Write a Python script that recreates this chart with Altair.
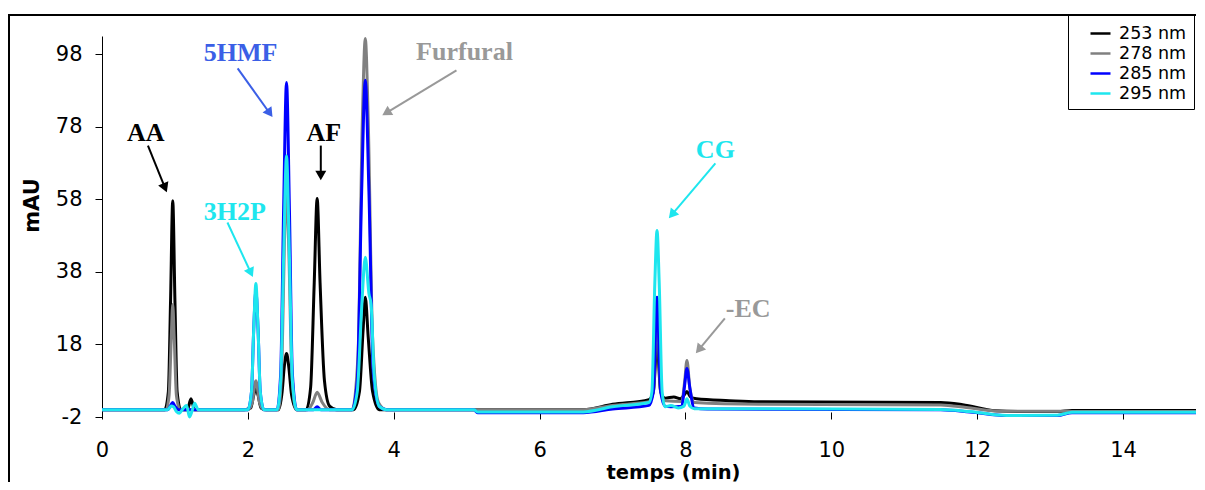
import math
import altair as alt
import pandas as pd

# ---------------- data ----------------
series_names = ["253 nm", "278 nm", "285 nm", "295 nm"]
series_colors = ["#000000", "#808080", "#0000ff", "#1ee6ee"]

t_253 = [0.0, 0.86, 0.91, 0.94, 0.97, 1.00, 1.03, 1.08, 1.17, 1.22, 1.27, 1.95, 2.04, 2.08, 2.11, 2.14, 2.18, 2.25,
         2.42, 2.47, 2.50, 2.53, 2.56, 2.60, 2.67, 2.80, 2.86, 2.91, 2.95, 2.99, 3.05, 3.12, 3.22, 3.45, 3.53, 3.58,
         3.61, 3.65, 3.71, 3.80, 6.60, 7.00, 7.50, 7.56, 7.61, 7.66, 7.72, 7.84, 7.93, 7.98, 8.02, 8.07, 8.15, 8.60,
         9.00, 11.50, 11.80, 12.25, 12.60, 13.10, 13.30, 15.0]
v_253 = [0, 0, 5, 30, 57.6, 30, 5, 0, 0, 3, 0, 0, 0.5, 4, 5.9, 4, 0.5, 0,
         0, 5, 12, 15.5, 12, 4, 0, 0, 6, 35, 58.2, 35, 8, 1, 0, 0, 5, 22,
         31, 20, 5, 0, 0, 1.5, 2.8, 5, 18, 5, 3.2, 3.5, 3, 4, 5, 3.5, 3, 2.5,
         2.2, 2.0, 1.4, -0.3, -0.5, -0.5, -0.2, -0.2]

t_278 = [0.0, 0.88, 0.92, 0.95, 0.97, 0.99, 1.02, 1.07, 2.00, 2.06, 2.11, 2.16, 2.22, 2.42, 2.47, 2.50, 2.53, 2.56,
         2.60, 2.66, 2.82, 2.89, 2.95, 3.02, 3.12, 3.43, 3.51, 3.57, 3.61, 3.65, 3.71, 3.79, 3.90, 6.60, 7.00, 7.50,
         7.56, 7.61, 7.66, 7.72, 7.95, 7.99, 8.02, 8.06, 8.12, 9.00, 11.50, 11.85, 12.30, 12.60, 13.20, 13.40, 15.0]
v_278 = [0, 0, 4, 20, 29, 20, 4, 0, 0, 2, 8, 2, 0, 0, 15, 45, 60, 45,
         12, 0, 0, 2, 4.8, 2, 0, 0, 15, 80, 102.3, 80, 20, 2, 0, 0, 1.2, 2.2,
         5, 26, 5, 2.5, 2.3, 8, 13.6, 6, 2, 1.5, 1.3, 0.6, -0.4, -0.4, -0.4, -0.5, -0.5]

t_285 = [0.0, 0.90, 0.95, 0.97, 1.00, 1.05, 2.00, 2.05, 2.08, 2.11, 2.14, 2.17, 2.22, 2.40, 2.45, 2.49, 2.53, 2.57,
         2.61, 2.67, 2.90, 2.95, 3.00, 3.43, 3.50, 3.56, 3.61, 3.66, 3.72, 3.80, 3.90, 5.10, 5.15, 6.60, 7.00, 7.50,
         7.56, 7.61, 7.66, 7.72, 7.80, 7.95, 7.99, 8.02, 8.06, 8.12, 8.30, 11.50, 11.90, 12.40, 13.10, 13.30, 15.0]
v_285 = [0, 0, 1.5, 2, 1, 0, 0, 5, 22, 33, 22, 5, 0, 0, 10, 55, 90.2, 55,
         10, 0, 0, 0.8, 0, 0, 8, 60, 90.8, 60, 10, 1, 0, 0, -0.8, -0.8, 0.2, 1.2,
         5, 31, 5, 1, 0.8, 1, 7, 11.4, 6, 0.5, 0.2, 0, -0.6, -1.6, -1.6, -0.8, -0.8]

t_295 = [0.0, 0.90, 0.95, 0.98, 1.02, 1.06, 1.10, 1.16, 1.20, 1.24, 1.27, 1.32, 2.00, 2.05, 2.08, 2.11, 2.14, 2.17,
         2.22, 2.40, 2.45, 2.49, 2.53, 2.57, 2.61, 2.67, 3.43, 3.50, 3.56, 3.61, 3.66, 3.69, 3.73, 3.80, 3.90, 5.10,
         5.15, 6.60, 7.00, 7.50, 7.54, 7.58, 7.61, 7.64, 7.68, 7.72, 7.80, 7.90, 7.98, 8.02, 8.06, 8.12, 11.50, 11.90,
         12.40, 13.10, 13.30, 15.0]
v_295 = [0, 0, 1, 0.8, -0.5, -1, 0, 1.2, -2, 0, 1.8, 0, 0, 5, 22, 34.8, 22, 5,
         0, 0, 8, 42, 70, 42, 8, 0, 0, 5, 28, 42, 32, 29, 10, 1, 0, 0,
         -0.6, -0.6, 0.8, 2, 5, 35, 49.4, 35, 5, 0.8, 1.2, 0.5, 1, 3, 1, 0.3, 0.1, -0.5,
         -1.6, -1.5, -0.7, -0.7]

x_ticks = [0, 2, 4, 6, 8, 10, 12, 14]
y_ticks = [-2, 18, 38, 58, 78, 98]

label_text = ["AA", "5HMF", "3H2P", "AF", "Furfural", "CG", "-EC"]
label_t = [0.60, 1.90, 1.82, 3.04, 4.97, 8.41, 8.86]
label_v = [76.4, 98.2, 54.4, 76.4, 98.5, 71.5, 27.7]
label_color = ["#000000", "#3b5fe6", "#1ee6ee", "#000000", "#999999", "#1ee6ee", "#999999"]

arrow_t0 = [0.63, 1.86, 1.72, 3.00, 4.86, 8.41, 8.54]
arrow_v0 = [72.8, 94.1, 51.6, 72.8, 93.5, 67.9, 25.2]
arrow_t1 = [0.89, 2.34, 2.07, 3.00, 3.84, 7.77, 8.14]
arrow_v1 = [59.9, 80.6, 36.5, 63.2, 81.1, 52.7, 15.5]

# ---------------- layout ----------------
W, H = 1094, 381
X_DOM = [0, 15]
Y_DOM = [-2, 103]
ppt = W / (X_DOM[1] - X_DOM[0])
ppv = H / (Y_DOM[1] - Y_DOM[0])

rows = []
for name, ts, vs in zip(series_names, [t_253, t_278, t_285, t_295], [v_253, v_278, v_285, v_295]):
    for t, v in zip(ts, vs):
        rows.append({"series": name, "t": t, "v": v})
df = pd.DataFrame(rows)

arrows = []
for t0, v0, t1, v1, c in zip(arrow_t0, arrow_v0, arrow_t1, arrow_v1, label_color):
    dx = (t1 - t0) * ppt
    dy = -(v1 - v0) * ppv
    L = math.hypot(dx, dy)
    ux, uy = dx / L, dy / L
    ang = math.degrees(math.atan2(ux, -uy)) % 360
    back = 5.0
    hx = t1 - back * ux / ppt
    hy = v1 + back * uy / ppv
    arrows.append({"t0": t0, "v0": v0, "th": hx, "vh": hy, "ang": ang, "col": c})
adf = pd.DataFrame(arrows)
ldf = pd.DataFrame({"txt": label_text, "t": label_t, "v": label_v, "col": label_color})

xscale = alt.Scale(domain=X_DOM, nice=False, zero=False)
yscale = alt.Scale(domain=Y_DOM, nice=False, zero=False)

lines = alt.Chart(df).mark_line(interpolate="monotone", strokeWidth=3).encode(
    x=alt.X("t:Q", scale=xscale, axis=alt.Axis(
        values=x_ticks, title="temps (min)", domain=False, grid=False,
        tickColor="black", tickSize=7, offset=-5, labelFlush=False,
        labelExpr="'' + datum.value",
        labelFont="DejaVu Sans", labelFontSize=21, labelColor="black", labelPadding=20,
        titleFont="DejaVu Sans", titleFontSize=19.5, titleFontWeight="bold", titleColor="black",
        titleX=571, titleY=66, titleBaseline="alphabetic", titleAlign="center")),
    y=alt.Y("v:Q", scale=yscale, axis=alt.Axis(
        values=y_ticks, title="mAU", grid=False, domainColor="black", domainWidth=1,
        tickColor="black", tickSize=7, labelFlush=False,
        labelExpr="'' + datum.value",
        labelFont="DejaVu Sans", labelFontSize=21, labelColor="black", labelPadding=13,
        titleFont="DejaVu Sans", titleFontSize=21, titleFontWeight="bold", titleColor="black",
        titleX=-64, titleY=169, titleBaseline="alphabetic", titleAlign="center")),
    color=alt.Color("series:N", scale=alt.Scale(domain=series_names, range=series_colors),
                    legend=alt.Legend(title=None, orient="none", legendX=966, legendY=-21,
                                      symbolType="stroke", symbolSize=400, symbolStrokeWidth=2.5,
                                      labelFont="DejaVu Sans", labelFontSize=17.5, labelColor="black",
                                      strokeColor="black", padding=7, rowPadding=-1,
                                      symbolOffset=14, labelOffset=7)),
)

rules = alt.Chart(adf).mark_rule(strokeWidth=2).encode(
    x=alt.X("t0:Q", scale=xscale), y=alt.Y("v0:Q", scale=yscale),
    x2="th:Q", y2="vh:Q",
    stroke=alt.Stroke("col:N", scale=None),
)

heads = alt.Chart(adf).mark_point(shape="triangle-up", filled=True, size=120, opacity=1, strokeWidth=0).encode(
    x=alt.X("th:Q", scale=xscale), y=alt.Y("vh:Q", scale=yscale),
    angle=alt.Angle("ang:Q", scale=None),
    fill=alt.Fill("col:N", scale=None),
)

texts = alt.Chart(ldf).mark_text(font="Liberation Serif", fontWeight="bold", fontSize=26,
                                 align="center", baseline="middle").encode(
    x=alt.X("t:Q", scale=xscale), y=alt.Y("v:Q", scale=yscale),
    text="txt:N",
    fill=alt.Fill("col:N", scale=None),
)

frame = alt.Chart(alt.Data(values=[{"a": 1}])).mark_rect(filled=False, stroke="black", strokeWidth=2).encode(
    x=alt.value(-93), x2=alt.value(1200), y=alt.value(-21), y2=alt.value(470),
)

chart = alt.layer(frame, lines, rules, heads, texts).properties(
    width=W, height=H,
    autosize=alt.AutoSizeParams(type="none"),
    padding={"left": 94, "top": 28, "right": 0, "bottom": 65},
).configure_view(strokeWidth=0)

chart.save("out.html", embed_options={"renderer": "svg", "actions": False})
